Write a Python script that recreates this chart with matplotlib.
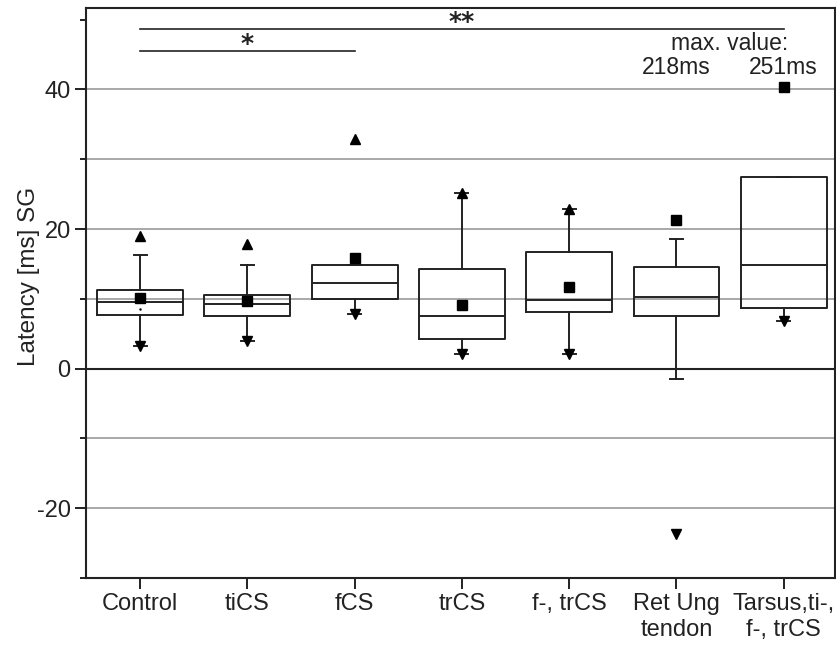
import matplotlib
matplotlib.use("Agg")
import matplotlib.pyplot as plt
from matplotlib.ticker import FixedLocator

plt.rcParams['font.family'] = ['Liberation Sans', 'DejaVu Sans']

# ---- data ----
categories = ["Control", "tiCS", "fCS", "trCS", "f-, trCS", "Ret Ung\ntendon", "Tarsus,ti-,\nf-, trCS"]
q1 = [7.7, 7.5, 10.0, 4.2, 8.1, 7.5, 8.7]
median = [9.5, 9.2, 12.2, 7.6, 9.8, 10.2, 14.9]
q3 = [11.3, 10.6, 14.8, 14.2, 16.7, 14.5, 27.5]
whisker_low = [3.3, 3.9, 7.85, 2.1, 2.1, -1.5, 6.8]
whisker_high = [16.3, 14.8, 14.8, 25.2, 22.8, 18.5, 27.5]
means = [10.1, 9.7, 15.8, 9.1, 11.7, 21.3, 40.4]
# min / max markers (None = off chart)
minimum = [3.3, 3.9, 7.85, 2.1, 2.1, -23.7, 6.8]
maximum = [19.0, 17.9, 32.9, 25.2, 22.8, None, None]
extra_dot = [8.6, None, None, None, None, None, None]
max_labels = ["", "", "", "", "", "218ms", "251ms"]

grid_values = [-20, -10, 10, 20, 30, 40]
major_ticks = [-20, 0, 20, 40]
minor_ticks = [-30, -10, 10, 30, 50]

# significance bars: (start index, end index, line y, label, label position, label baseline y)
sig_bars = [(0, 6, 48.7, "**", 3, 48.7), (0, 2, 45.5, "*", 1, 45.5)]

dark = '#222222'

fig = plt.figure(figsize=(8.36, 6.48), dpi=100)
ax = fig.add_axes([0.1029, 0.108, 0.8961, 0.879])

positions = list(range(len(categories)))

for g in grid_values:
    ax.axhline(g, color='#999999', lw=1.2, zorder=0)
ax.axhline(0, color=dark, lw=1.5, zorder=0)

stats = []
for i in positions:
    stats.append(dict(med=median[i], q1=q1[i], q3=q3[i],
                      whislo=whisker_low[i], whishi=whisker_high[i],
                      mean=means[i], fliers=[], label=categories[i]))

ax.bxp(stats, positions=positions, widths=0.8, showmeans=True,
       showfliers=False, patch_artist=False,
       capwidths=0.12,
       boxprops=dict(color=dark, lw=1.4),
       medianprops=dict(color=dark, lw=1.4),
       whiskerprops=dict(color=dark, lw=1.4),
       capprops=dict(color=dark, lw=1.4),
       meanprops=dict(marker='s', markerfacecolor='black', markeredgecolor='black', markersize=6.5))

for i in positions:
    if minimum[i] is not None:
        ax.plot(i, minimum[i], marker='v', color='black', markersize=7, zorder=5)
    if maximum[i] is not None:
        ax.plot(i, maximum[i], marker='^', color='black', markersize=7, zorder=5)
    if extra_dot[i] is not None:
        ax.plot(i, extra_dot[i], marker='.', color='black', markersize=1.5, zorder=5)

for (a, b, y, lab, lx, ly) in sig_bars:
    ax.plot([a, b], [y, y], color=dark, lw=1.2)
    ax.text(lx, ly, lab, ha='center', va='baseline', fontsize=18, fontweight='bold',
            family='DejaVu Sans', color=dark)

ax.text(5.5, 45.7, "max. value:", ha='center', va='baseline', fontsize=16.5, color=dark)
for i in positions:
    if max_labels[i]:
        ax.text(i, 42.2, max_labels[i], ha='center', va='baseline', fontsize=16.5, color=dark)

ax.set_xlim(-0.504, 6.48)
ax.set_ylim(-30, 51.6)
ax.set_xticks(positions)
ax.set_xticklabels(categories, fontsize=17, color=dark)
ax.yaxis.set_major_locator(FixedLocator(major_ticks))
ax.yaxis.set_minor_locator(FixedLocator(minor_ticks))
ax.set_yticklabels([str(t) for t in major_ticks], fontsize=17, color=dark)
ax.tick_params(axis='both', which='major', length=8, width=1.4, color=dark, direction='out', pad=3)
ax.tick_params(axis='y', which='minor', length=4.5, width=1.4, color=dark, direction='out')
ax.set_ylabel("Latency [ms] SG", fontsize=17.5, color=dark)
ax.yaxis.set_label_coords(-0.0614, 0.529)
for s in ax.spines.values():
    s.set_linewidth(1.5)
    s.set_color(dark)

fig.savefig("out.png", dpi=100)
